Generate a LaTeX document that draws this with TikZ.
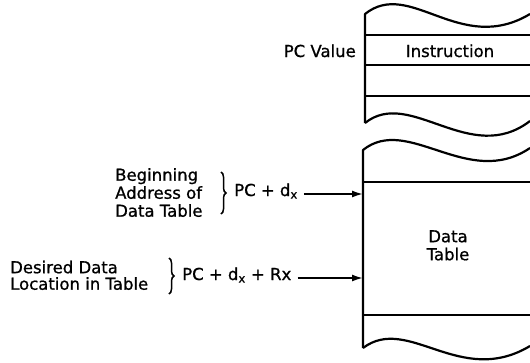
\documentclass[tikz,border=0pt]{standalone}
\usepackage{fontspec}
\setmainfont{DejaVu Sans}[FakeBold=0.9]
\usetikzlibrary{decorations.pathreplacing,arrows.meta}
\begin{document}
\begin{tikzpicture}[x=1pt,y=-1pt,
  blk/.style={line width=2.2pt, line join=round},
  lbl/.style={font=\fontsize{16.5}{18}\selectfont, inner sep=0pt},
  ptr/.style={line width=1.7pt, -{Latex[length=11pt,width=7pt]}},
  brc/.style={line width=1.5pt, decorate, decoration={brace, amplitude=5pt}}]
\useasboundingbox (0,0) rectangle (530,362);
\begin{scope}
\clip (0,0) rectangle (530,362);
% top memory block
\draw[blk] (365,123) -- (365,14) .. controls (410,-22) and (460,56) .. (530,14);
\draw[blk] (365,123) .. controls (410,87) and (470,167) .. (530,121);
\draw[blk] (365,35) -- (530,35);
\draw[blk] (365,65) -- (530,65);
\draw[blk] (365,96) -- (530,96);
% bottom memory block
\draw[blk] (363,348) -- (363,150) .. controls (408,114) and (468,190) .. (530,148);
\draw[blk] (363,348) .. controls (408,314) and (460,388) .. (530,346);
\draw[blk] (363,182) -- (530,182);
\draw[blk] (363,315) -- (530,315);
\end{scope}
% texts
\node[lbl, anchor=base east] (pcv) at (356,57) {PC Value};
\node[lbl, anchor=base] (ins) at (450,57) {Instruction};
\node[lbl, anchor=north, align=center] (dt) at (448,230) {Data\\Table};
\node[lbl, anchor=north west, align=left] (beg) at (115,168) {Beginning\\Address of\\Data Table};
\node[lbl, anchor=north west, align=left, font=\fontsize{16.5}{16.5}\selectfont] (des) at (10,260.5) {Desired Data\\Location in Table};
\node[lbl, anchor=base west] (l1) at (234,196) {PC + d\textsubscript{x}};
\node[lbl, anchor=base west] (l2) at (182,280) {PC + d\textsubscript{x} + Rx};
% braces
\coordinate (b1t) at (221,172);
\coordinate (b1b) at (221,214);
\coordinate (b2t) at (169,258);
\coordinate (b2b) at (169,294);
\draw[brc] (b1t) -- (b1b);
\draw[brc] (b2t) -- (b2b);
% arrows
\coordinate (t1) at (363,194);
\coordinate (t2) at (363,278);
\draw[ptr] ([xshift=6pt]l1.east |- t1) -- (t1);
\draw[ptr] ([xshift=6pt]l2.east |- t2) -- (t2);
\end{tikzpicture}
\end{document}
